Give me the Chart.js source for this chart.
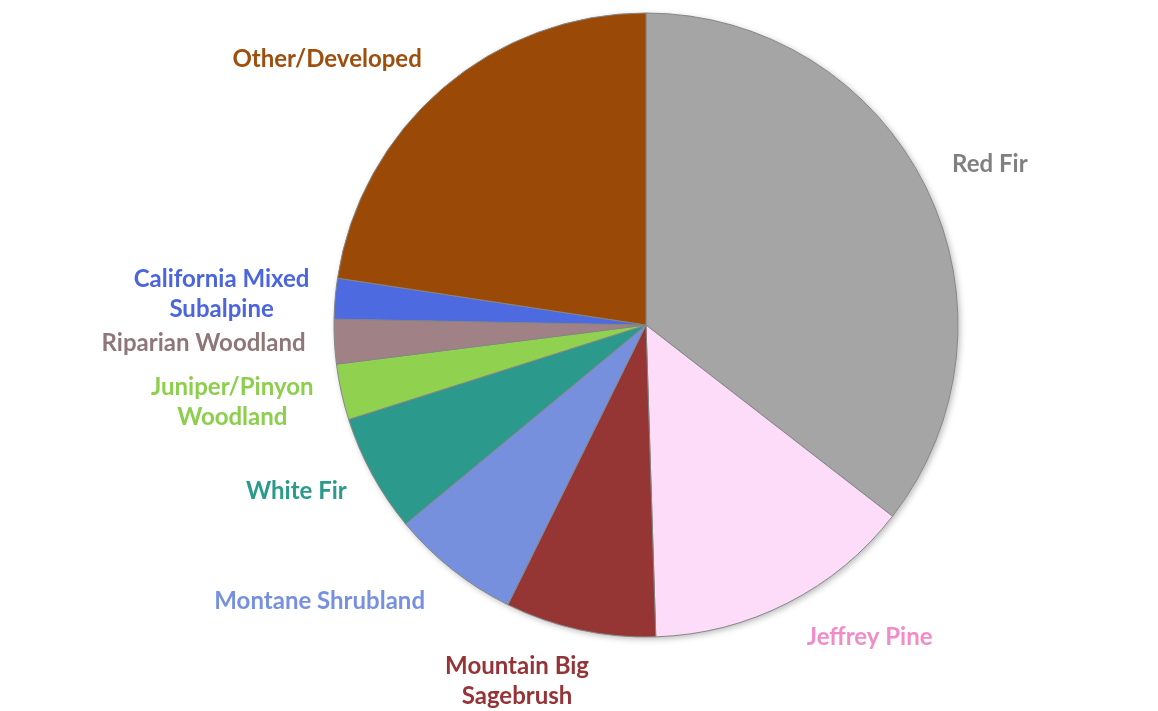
<!DOCTYPE html>
<html>
<head>
<meta charset="utf-8">
<title>Vegetation Types</title>
<script src="https://cdn.jsdelivr.net/npm/chart.js@4/dist/chart.umd.min.js"></script>
<style>
    html, body { margin: 0; padding: 0; background: #ffffff; }
    #wrap { position: relative; width: 1158px; height: 711px; }
</style>
</head>
<body>
<div id="wrap"><canvas id="vegChart"></canvas></div>
<script>
// Share of area by vegetation type (%), clockwise from 12 o'clock
const categories = [
    'Red Fir',
    'Jeffrey Pine',
    'Mountain Big Sagebrush',
    'Montane Shrubland',
    'White Fir',
    'Juniper/Pinyon Woodland',
    'Riparian Woodland',
    'California Mixed Subalpine',
    'Other/Developed'
];
const shares = [35.5, 14.0, 7.8, 6.7, 6.1, 2.9, 2.3, 2.1, 22.6];

// How each label wraps on the chart
const labelLines = [
    ['Red Fir'],
    ['Jeffrey Pine'],
    ['Mountain Big', 'Sagebrush'],
    ['Montane Shrubland'],
    ['White Fir'],
    ['Juniper/Pinyon', 'Woodland'],
    ['Riparian Woodland'],
    ['California Mixed', 'Subalpine'],
    ['Other/Developed']
];

const sliceColors = ['#a5a5a5', '#fddcfa', '#963634', '#7690de', '#2b9a8d', '#90d24f', '#a08286', '#4d6ae0', '#9a4a06'];
const textColors  = ['#808080', '#f28cc9', '#953336', '#7790e0', '#2a9a8a', '#8ccf4c', '#8f7777', '#4a65dd', '#9e4f0e'];

// fine placement of each label after it is pushed out along the slice middle
const labelNudge = [[19, -12], [48, 10], [-45, 10], [-60, 10], [-21, 4], [-18, 1], [-17, 0], [-14, -1], [-46, -9]];

const LABEL_FONT = 'bold 24px Lato';
const LINE_H = 30;
const LABEL_GAP = 12;

// soft shadow under the whole pie
const pieShadow = {
    id: 'pieShadow',
    beforeDatasetsDraw(chart) {
        const arc = chart.getDatasetMeta(0).data[0];
        if (!arc) return;
        const ctx = chart.ctx;
        ctx.save();
        ctx.shadowColor = 'rgba(0, 0, 0, 0.28)';
        ctx.shadowBlur = 6;
        ctx.shadowOffsetX = 2;
        ctx.shadowOffsetY = 2;
        ctx.fillStyle = '#ffffff';
        ctx.beginPath();
        ctx.arc(arc.x, arc.y, arc.outerRadius, 0, Math.PI * 2);
        ctx.fill();
        ctx.restore();
    }
};

// category labels outside the pie, coloured like their slices
const outsideLabels = {
    id: 'outsideLabels',
    afterDatasetsDraw(chart) {
        const ctx = chart.ctx;
        const arcs = chart.getDatasetMeta(0).data;
        ctx.save();
        ctx.font = LABEL_FONT;
        ctx.textAlign = 'center';
        ctx.textBaseline = 'middle';
        arcs.forEach((arc, i) => {
            const mid = (arc.startAngle + arc.endAngle) / 2;
            const dx = Math.cos(mid), dy = Math.sin(mid);
            const lines = labelLines[i];
            const w = Math.max(...lines.map(t => ctx.measureText(t).width));
            const h = lines.length * LINE_H;
            const r = arc.outerRadius + LABEL_GAP;
            const cx = arc.x + dx * r + dx * w / 2 + labelNudge[i][0];
            const cy = arc.y + dy * r + dy * h / 2 + labelNudge[i][1];
            ctx.fillStyle = textColors[i];
            lines.forEach((t, j) => {
                ctx.fillText(t, cx, cy + (j - (lines.length - 1) / 2) * LINE_H);
            });
        });
        ctx.restore();
    }
};

const ctx = document.getElementById('vegChart').getContext('2d');
const vegChart = new Chart(ctx, {
    type: 'pie',
    data: {
        labels: categories,
        datasets: [{
            data: shares,
            backgroundColor: sliceColors,
            borderColor: '#858585',
            borderWidth: 1,
            radius: 312
        }]
    },
    options: {
        responsive: true,
        maintainAspectRatio: false,
        animation: false,
        layout: {
            padding: { left: 334, right: 200, top: 13, bottom: 74 }
        },
        plugins: {
            legend: { display: false },
            tooltip: { enabled: false }
        }
    },
    plugins: [pieShadow, outsideLabels]
});
</script>
</body>
</html>
